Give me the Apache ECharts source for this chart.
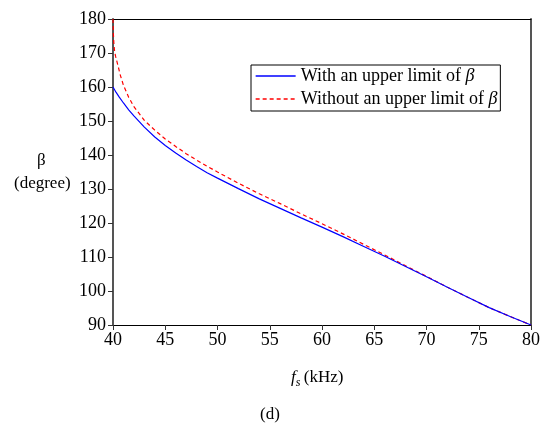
<!DOCTYPE html>
<html>
<head>
<meta charset="utf-8">
<script src="https://cdn.jsdelivr.net/npm/echarts@6/dist/echarts.min.js"></script>
<style>html,body{margin:0;padding:0;background:#fff}#c{width:553px;height:423px}</style>
</head>
<body>
<div id="c"></div>
<script>
// Data
var fsBlue   = [40, 40.3, 40.6, 41, 41.5, 42, 43, 44, 45, 46, 47, 48, 49, 50, 52, 54, 56, 58, 60, 62, 64, 66, 68, 70, 72, 74, 76, 78, 80];
var betaBlue = [160, 158.4, 157.0, 155.3, 153.3, 151.5, 148.2, 145.3, 142.8, 140.6, 138.5, 136.6, 134.8, 133.2, 130.1, 127.1, 124.3, 121.5, 118.8, 116.0, 113.1, 110.2, 107.2, 104.2, 101.1, 98.1, 95.1, 92.5, 90];
var fsRed    = [40, 40.03, 40.08, 40.15, 40.25, 40.35, 40.5, 40.7, 41, 41.5, 42, 43, 44, 45, 46, 47, 48, 49, 50, 52, 54, 56, 58, 60, 62, 64, 66, 68, 70, 72, 74, 76, 78, 80];
var betaRed  = [180, 176, 173, 170.5, 169, 167.8, 166, 163.5, 160.5, 157, 154.2, 150.2, 147.3, 144.7, 142.5, 140.4, 138.5, 136.7, 135, 131.7, 128.6, 125.7, 122.7, 119.8, 116.8, 113.7, 110.6, 107.4, 104.3, 101.1, 98.1, 95.1, 92.5, 90];
var seriesNames = ['With an upper limit of β', 'Without an upper limit of β'];
var xTicks = [40, 45, 50, 55, 60, 65, 70, 75, 80];
var yTicks = [90, 100, 110, 120, 130, 140, 150, 160, 170, 180];

function pairs(xs, ys) { return xs.map(function (x, i) { return [x, ys[i]]; }); }

var FONT = '"Liberation Serif", "Times New Roman", serif';
var chart = echarts.init(document.getElementById('c'), null, { renderer: 'canvas' });

var xMin = xTicks[0], xMax = xTicks[xTicks.length - 1];
var yMin = yTicks[0], yMax = yTicks[yTicks.length - 1];

chart.setOption({
  animation: false,
  backgroundColor: '#fff',
  textStyle: { fontFamily: FONT },
  grid: { left: 113, right: 22, top: 19, bottom: 98, containLabel: false },
  legend: {
    orient: 'vertical',
    left: 251, top: 65,
    data: seriesNames,
    backgroundColor: '#fff',
    borderColor: '#000', borderWidth: 1,
    padding: [2, 3, 3, 4],
    itemGap: 5,
    itemWidth: 40, itemHeight: 16,
    itemStyle: { opacity: 0 },
    lineStyle: { width: 1.3 },
    textStyle: {
      fontFamily: FONT, fontSize: 18, color: '#000',
      rich: { i: { fontFamily: FONT, fontSize: 18, fontStyle: 'italic', color: '#000' } }
    },
    formatter: function (name) { return name.replace('β', '{i|β}'); }
  },
  xAxis: [{
    type: 'value', min: xMin, max: xMax, interval: 5,
    axisLine: { show: true, lineStyle: { color: '#000', width: 1 } },
    axisTick: { show: true, inside: false, length: 5, lineStyle: { color: '#333', width: 1 } },
    axisLabel: { color: '#000', fontFamily: FONT, fontSize: 18, margin: 6 },
    splitLine: { show: false }
  }, {
    type: 'value', position: 'top', min: xMin, max: xMax,
    axisLine: { show: true, onZero: false, lineStyle: { color: '#000', width: 1 } },
    axisTick: { show: false }, axisLabel: { show: false }, splitLine: { show: false }
  }],
  yAxis: [{
    type: 'value', min: yMin, max: yMax, interval: 10,
    axisLine: { show: true, onZero: false, lineStyle: { color: '#555', width: 2 } },
    axisTick: { show: true, inside: false, length: 5, lineStyle: { color: '#333', width: 1 } },
    axisLabel: { color: '#000', fontFamily: FONT, fontSize: 18, margin: 7 },
    splitLine: { show: false }
  }, {
    type: 'value', position: 'right', min: yMin, max: yMax,
    axisLine: { show: true, onZero: false, lineStyle: { color: '#555', width: 2 } },
    axisTick: { show: false }, axisLabel: { show: false }, splitLine: { show: false }
  }],
  series: [{
    name: seriesNames[0], type: 'line', smooth: false, symbol: 'none',
    lineStyle: { color: '#0000ff', width: 1.2 },
    itemStyle: { color: '#0000ff' },
    data: pairs(fsBlue, betaBlue), z: 3
  }, {
    name: seriesNames[1], type: 'line', smooth: false, symbol: 'none',
    lineStyle: { color: '#ff0000', width: 1.2, type: [4, 3] },
    itemStyle: { color: '#ff0000' },
    data: pairs(fsRed, betaRed), z: 2
  }],
  graphic: [
    { type: 'text', left: 37, top: 152, style: { text: 'β', font: '17px ' + FONT, fill: '#000' } },
    { type: 'text', left: 14, top: 175, style: { text: '(degree)', font: '17px ' + FONT, fill: '#000' } },
    { type: 'text', left: 291, top: 369, style: {
        text: '{f|f}{s|s} {n|(kHz)}',
        rich: {
          f: { font: 'italic 17px ' + FONT, fill: '#000' },
          s: { font: 'italic 12px ' + FONT, fill: '#000', padding: [10, 0, 0, 0] },
          n: { font: '17px ' + FONT, fill: '#000' }
        }
    } },
    { type: 'text', left: 260, top: 406, style: { text: '(d)', font: '17px ' + FONT, fill: '#000' } }
  ]
});
</script>
</body>
</html>
